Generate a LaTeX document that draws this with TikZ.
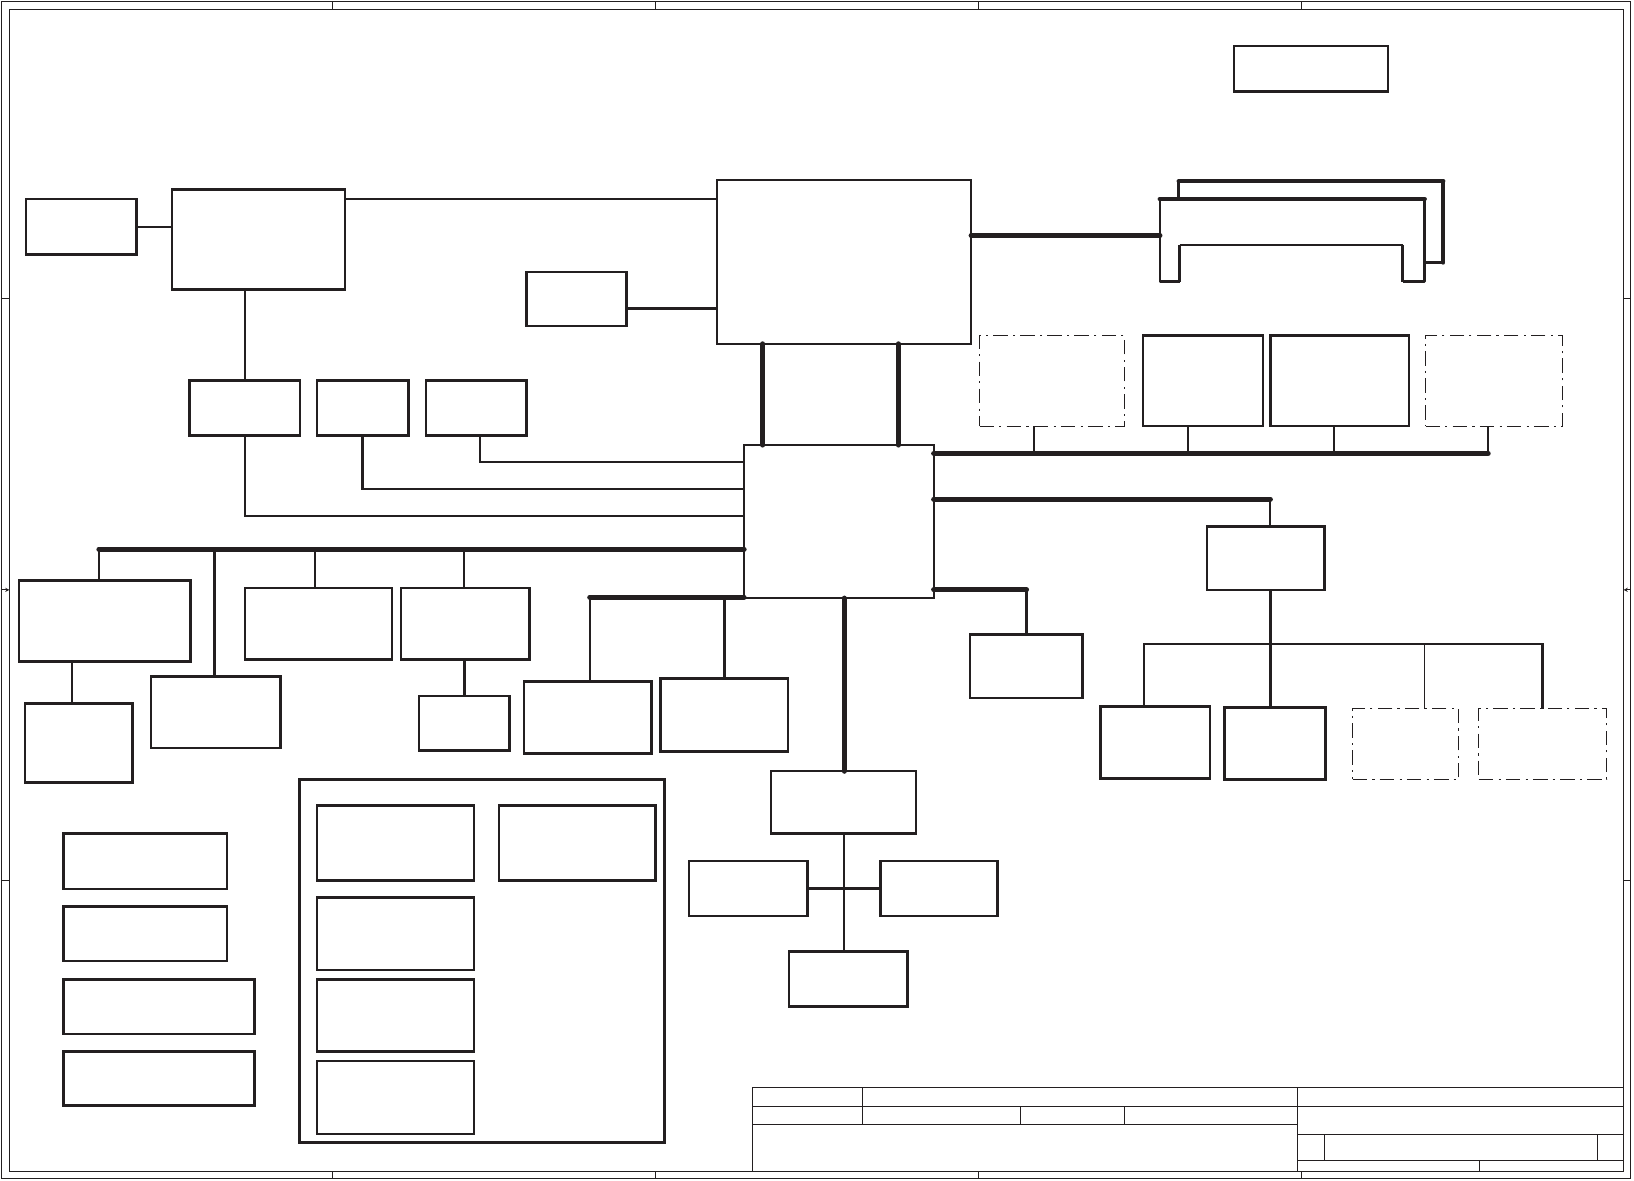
\documentclass[tikz,border=0pt]{standalone}
\usetikzlibrary{arrows.meta}
\definecolor{ink}{RGB}{35,31,32}
\newcommand\mybox[6]{\node[#1, minimum width={(#5-#3)*1pt}, minimum height={(#6-#4)*1pt}] (#2) at ({(#3+#5)/2},{(#4+#6)/2}) {};}
\begin{document}
\begin{tikzpicture}[x=1pt,y=-1pt,
  box/.style={draw=ink, line width=2.4pt, rectangle, inner sep=0pt, outer sep=0pt},
  hub/.style={box, line width=2pt},
  cont/.style={box, line width=3pt},
  dbox/.style={draw=ink, line width=1pt, rectangle, inner sep=0pt, outer sep=0pt, dash pattern=on 14pt off 5pt on 2pt off 5pt},
  wire/.style={draw=ink, line width=1.8pt},
  mwire/.style={draw=ink, line width=2.4pt},
  bus/.style={draw=ink, line width=5pt, line cap=round},
  frm/.style={draw=ink, line width=1pt}]
\useasboundingbox (0,0) rectangle (1568,1133);
\fill[white] (0,0) rectangle (1568,1133);
% sheet frame
\draw[frm] (1,1) rectangle (1565,1131);
\draw[frm] (9,9) rectangle (1558,1124);
\foreach \x in {319,629,939,1249}{\draw[frm] (\x,1) -- (\x,9); \draw[frm] (\x,1124) -- (\x,1131);}
\foreach \y in {286,845}{\draw[frm] (1,\y) -- (9,\y); \draw[frm] (1558,\y) -- (1565,\y);}
\coordinate (la) at (1,566); \coordinate (lb0) at (9,566);
\coordinate (ra) at (1565,566); \coordinate (rb0) at (1558,566);
\draw[frm, -{Stealth[length=4pt,width=4pt]}] (la) -- (lb0);
\draw[frm, -{Stealth[length=4pt,width=4pt]}] (ra) -- (rb0);
% title block
\draw[frm] (722,1124) -- (722,1044) -- (1558,1044);
\draw[frm] (722,1062) -- (1558,1062);
\draw[frm] (722,1079) -- (1245,1079);
\draw[frm] (1245,1044) -- (1245,1124);
\draw[frm] (828,1044) -- (828,1079);
\draw[frm] (979,1062) -- (979,1079);
\draw[frm] (1079,1062) -- (1079,1079);
\draw[frm] (1245,1088.5) -- (1558,1088.5);
\draw[frm] (1245,1114) -- (1558,1114);
\draw[frm] (1271,1088.5) -- (1271,1114);
\draw[frm] (1533,1088.5) -- (1533,1114);
\draw[frm] (1420,1114) -- (1420,1124);
% boxes
\mybox{box}{top}{1184}{44}{1332}{88}
\mybox{box}{a}{25}{191}{131}{244}
\mybox{box}{b}{165}{182}{331}{278}
\mybox{box}{c}{505}{261}{601}{313}
\mybox{hub}{cpu}{688}{173}{932}{330}
\mybox{box}{d1}{182}{365}{288}{418}
\mybox{box}{d2}{304}{365}{392}{418}
\mybox{box}{d3}{409}{365}{505}{418}
\mybox{hub}{pch}{714}{427}{896}{574}
\mybox{dbox}{h1}{940}{322}{1079}{409}
\mybox{box}{h2}{1097}{322}{1212}{409}
\mybox{box}{h3}{1219}{322}{1352}{409}
\mybox{dbox}{h4}{1368}{322}{1499}{409}
\mybox{box}{i}{1158}{505}{1271}{566}
\mybox{box}{j1}{1056}{678}{1161}{747}
\mybox{box}{j2}{1175}{679}{1272}{748}
\mybox{dbox}{j3}{1298}{680}{1400}{748}
\mybox{dbox}{j4}{1419}{680}{1542}{748}
\mybox{box}{k}{931}{609}{1039}{670}
\mybox{box}{e1}{18}{557}{183}{635}
\mybox{box}{e2}{145}{649}{269}{718}
\mybox{box}{e3}{235}{564}{376}{633}
\mybox{box}{e4}{385}{564}{508}{633}
\mybox{box}{e5}{24}{675}{127}{751}
\mybox{box}{e6}{402}{668}{489}{720}
\mybox{box}{f1}{503}{654}{625}{723}
\mybox{box}{f2}{634}{651}{756}{721}
\mybox{box}{g}{740}{740}{879}{800}
\mybox{box}{g1}{661}{826}{775}{879}
\mybox{box}{g2}{845}{826}{957}{879}
\mybox{box}{g3}{757}{913}{871}{966}
\mybox{box}{l1}{61}{800}{218}{853}
\mybox{box}{l2}{61}{870}{218}{922}
\mybox{box}{l3}{61}{940}{244}{992}
\mybox{box}{l4}{61}{1009}{244}{1061}
\mybox{cont}{ct}{287}{748}{638}{1096}
\mybox{box}{m1}{304}{773}{455}{845}
\mybox{box}{m2}{479}{773}{629}{845}
\mybox{box}{m3}{304}{861}{455}{931}
\mybox{box}{m4}{304}{940}{455}{1009}
\mybox{box}{m5}{304}{1018}{455}{1088}
% memory slots
\draw[ink, line width=4pt, line cap=round] (1131,174) -- (1385,174);
\draw[ink, line width=2.2pt] (1131,174) -- (1131,191);
\draw[ink, line width=4pt, line cap=round] (1385,174) -- (1385,252);
\draw[ink, line width=2.2pt] (1385,252) -- (1367,252);
\coordinate (dimm) at (1113,226);
\draw[ink, line width=4.5pt, line cap=round] (1113,191) -- (1367,191);
\draw[ink, line width=2.6pt, line join=round] (1113,191) -- (1113,270) -- (1132,270);
\draw[ink, line width=3.4pt] (1132,271) -- (1132,235);
\draw[ink, line width=2pt] (1132,235) -- (1346,235);
\draw[ink, line width=3.4pt] (1346,235) -- (1346,271);
\draw[ink, line width=2.6pt, line join=round] (1346,270) -- (1367,270) -- (1367,191);
% connectors
\draw[wire] (a.east) -- (a.east -| b.west);
\coordinate (bo) at (331,191);
\draw[wire] (bo) -- (bo -| cpu.west);
\coordinate (co) at (601,296);
\draw[mwire] (co) -- (co -| cpu.west);
\coordinate (mo) at (932,226);
\draw[bus] (mo) -- (dimm);
\coordinate (cp1) at (732,330);
\coordinate (cp2) at (862,330);
\draw[bus] (cp1) -- (cp1 |- pch.north);
\draw[bus] (cp2) -- (cp2 |- pch.north);
\draw[mwire] (d1.north |- b.south) -- (d1.north);
\coordinate (p495) at (714,495);
\coordinate (p469) at (714,469);
\coordinate (p443) at (714,443);
\coordinate (d3o) at (461,418);
\draw[wire] (d1.south) |- (p495);
\draw[mwire] (d2.south) |- (p469);
\draw[wire] (d3o) |- (p443);
% left bus
\coordinate (lb) at (95,527);
\draw[bus] (lb) -- (lb -| pch.west);
\coordinate (b2) at (206,527);
\coordinate (b3) at (302,527);
\coordinate (b4) at (445,527);
\draw[wire] (lb) -- (lb |- e1.north);
\draw[mwire] (b2) -- (b2 |- e2.north);
\draw[wire] (b3) -- (b3 |- e3.north);
\draw[wire] (b4) -- (b4 |- e4.north);
\coordinate (e15) at (69,635);
\draw[wire] (e15) -- (e15 |- e5.north);
\draw[mwire] (e6.north |- e4.south) -- (e6.north);
% second left bus
\coordinate (fb) at (566,573);
\draw[bus] (fb) -- (fb -| pch.west);
\draw[wire] (fb) -- (fb |- f1.north);
\draw[mwire] (f2.north |- fb) -- (f2.north);
% pch bottom
\coordinate (pb) at (810,574);
\draw[bus] (pb) -- (pb |- g.north);
\draw[wire] (pb |- g.south) -- (pb |- g3.north);
\draw[mwire] (g1.east) -- (g2.west);
% right bus 1
\coordinate (rb1) at (896,435);
\coordinate (q1) at (992,435);
\coordinate (q2) at (1140,435);
\coordinate (q3) at (1280,435);
\coordinate (q4) at (1428,435);
\draw[bus] (rb1) -- (q4);
\draw[wire] (q1) -- (q1 |- h1.south);
\draw[wire] (q2) -- (q2 |- h2.south);
\draw[wire] (q3) -- (q3 |- h3.south);
\draw[wire] (q4) -- (q4 |- h4.south);
% right bus 2
\coordinate (rb2) at (896,479);
\coordinate (rb2e) at (1219,479);
\draw[bus] (rb2) -- (rb2e);
\draw[wire] (rb2e) -- (rb2e |- i.north);
\coordinate (t1) at (1098,618);
\coordinate (t2) at (1219,618);
\coordinate (t3) at (1367,618);
\coordinate (t4) at (1480,618);
\draw[mwire] (t2 |- i.south) -- (t2);
\draw[mwire, line join=miter] (t1 |- j1.north) -- (t1) -- (t4) -- (t4 |- j4.north);
\draw[mwire] (t2) -- (t2 |- j2.north);
\draw[wire] (t3) -- (t3 |- j3.north);
% right bus 3
\coordinate (rb3) at (896,566);
\coordinate (kk) at (985,566);
\draw[bus] (rb3) -- (kk);
\draw[mwire] (kk) -- (kk |- k.north);
\end{tikzpicture}
\end{document}
